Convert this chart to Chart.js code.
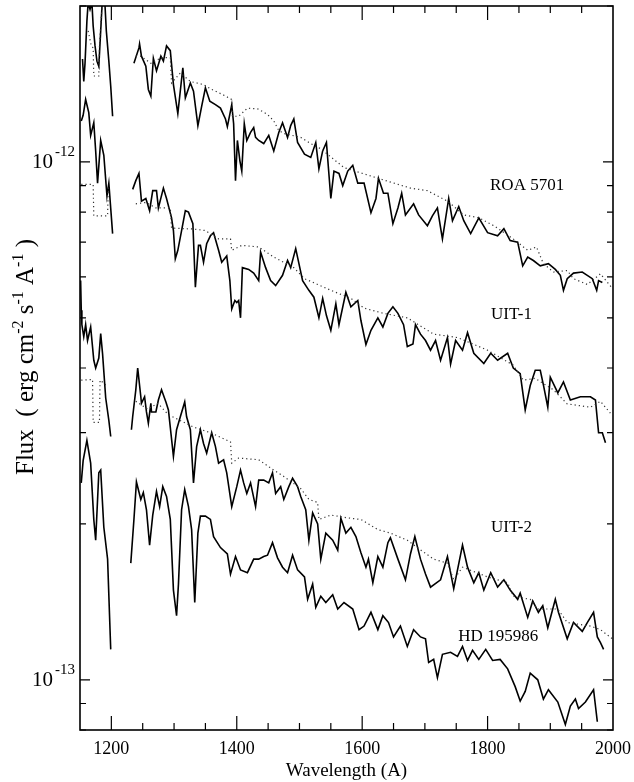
<!DOCTYPE html>
<html>
<head>
<meta charset="utf-8">
<script src="https://cdn.jsdelivr.net/npm/chart.js@4.4.0/dist/chart.umd.min.js"></script>
<style>
  html, body { margin: 0; padding: 0; background: #fff; }
  canvas { display: block; }
</style>
</head>
<body>
<canvas id="spectra" width="634" height="782"></canvas>
<script>
// UV spectra, flux in units of 1e-13 erg cm-2 s-1 A-1, wavelength in A
// [wavelength, flux]; a null flux breaks the line (gap around Ly-alpha)
const roaObs = [[1154,15.8],[1156,14.3],[1158,15.5],[1161,18.7],[1163,20.3],[1166,19.7],[1169,20.3],[1171,18.3],[1174,16.75],[1177,15.65],[1180,15.3],[1183,17.9],[1186,21],[1189,21],[1192,17.9],[1196,15.65],[1199,14.0],[1202,12.25],[1215,null],
  [1236,15.5],[1244,16.6],[1245,16.9],[1248,16.0],[1255,15.3],[1259,13.8],[1263,13.4],[1267,15.85],[1272,15.0],[1279,16.0],[1283,15.65],[1288,16.75],[1294,16.4],[1299,14.1],[1306,12.4],[1314,15.2],[1318,13.3],[1326,14.2],[1331,13.7],[1338,11.75],[1344,12.8],[1350,13.9],[1357,13.1],[1366,12.9],[1374,12.7],[1382,12.1],[1385,11.7],[1392,12.9],[1395,11.85],[1398,9.2],[1401,11.0],[1405,10.05],[1408,9.6],[1412,11.85],[1416,11.0],[1422,11.4],[1427,11.65],[1430,11.15],[1435,11.0],[1443,10.85],[1451,11.25],[1459,10.5],[1467,11.4],[1473,11.9],[1481,11.15],[1486,11.75],[1491,12.1],[1497,10.9],[1508,10.35],[1518,10.2],[1526,10.9],[1531,9.7],[1537,10.5],[1543,10.9],[1550,8.5],[1555,9.6],[1563,9.5],[1569,9.0],[1577,9.6],[1585,9.85],[1593,9.1],[1603,9.1],[1614,7.98],[1622,8.5],[1626,9.3],[1634,8.7],[1641,8.7],[1649,7.6],[1657,8.15],[1663,8.7],[1669,7.9],[1682,8.3],[1690,7.9],[1704,7.53],[1712,7.87],[1720,8.15],[1725,7.47],[1728,7.1],[1738,8.5],[1744,7.7],[1754,8.2],[1762,7.7],[1773,7.27],[1786,7.8],[1800,7.3],[1816,7.2],[1826,7.43],[1836,7.05],[1848,7.0],[1856,6.3],[1864,6.55],[1873,6.45],[1884,6.3],[1897,6.36],[1908,6.2],[1916,6.04],[1921,5.65],[1927,5.95],[1937,6.1],[1951,6.13],[1959,6.04],[1967,5.95],[1974,5.65],[1977,5.9],[1983,5.85]];

const roaModel = [[1163,17.9],[1168,16.75],[1171,16.6],[1172,14.65],[1180,14.65],[1181,16.75],[1184,19.1],[1187,21],[1215,null],
  [1239,16.0],[1247,16.0],[1263,15.5],[1280,15.9],[1294,15.9],[1296,14.2],[1310,14.85],[1326,14.3],[1347,14.1],[1360,13.8],[1377,13.5],[1392,13.2],[1393,12.25],[1403,12.25],[1417,12.7],[1434,12.65],[1449,12.35],[1459,12.0],[1467,11.5],[1475,11.35],[1502,11.15],[1518,10.85],[1534,10.6],[1571,9.75],[1625,9.3],[1677,8.9],[1704,8.8],[1736,8.4],[1762,7.9],[1786,7.8],[1810,7.53],[1841,7.1],[1864,6.75],[1878,6.85],[1889,6.36],[1905,6.13],[1927,6.17],[1937,5.95],[1959,5.8],[1980,6.08],[1999,5.7]];

const uit1Obs = [[1152,12.0],[1155,12.3],[1159,13.2],[1164,12.45],[1167,11.25],[1172,11.9],[1175,10.5],[1178,9.1],[1183,11.0],[1188,10.3],[1193,8.6],[1196,9.1],[1202,7.27],[1215,null],
  [1234,8.85],[1239,9.2],[1244,9.5],[1248,8.4],[1255,8.5],[1261,8.05],[1266,8.8],[1272,8.8],[1275,8.15],[1283,8.9],[1288,8.5],[1296,7.8],[1299,7.37],[1302,6.5],[1306,6.75],[1312,7.37],[1318,8.05],[1323,8.0],[1330,7.6],[1334,5.73],[1339,6.9],[1342,6.9],[1347,6.4],[1352,6.95],[1358,7.2],[1363,7.3],[1371,6.75],[1376,6.4],[1384,6.58],[1389,5.9],[1392,5.2],[1397,5.4],[1400,5.35],[1403,5.4],[1406,5.0],[1409,6.25],[1419,6.2],[1427,6.1],[1435,5.9],[1438,6.7],[1446,6.25],[1454,5.9],[1462,5.77],[1473,6.04],[1481,6.45],[1486,6.25],[1494,6.8],[1505,5.9],[1515,5.65],[1523,5.48],[1531,5.0],[1537,5.45],[1543,5.05],[1550,4.73],[1558,5.32],[1563,4.85],[1574,5.6],[1582,5.25],[1593,5.4],[1598,4.94],[1606,4.44],[1614,4.73],[1625,5.0],[1633,4.8],[1641,5.1],[1649,5.25],[1657,5.1],[1666,4.85],[1672,4.4],[1681,4.45],[1685,4.85],[1693,4.65],[1701,4.52],[1709,4.33],[1717,4.52],[1725,4.14],[1736,4.58],[1741,4.07],[1749,4.52],[1760,4.33],[1768,4.68],[1778,4.27],[1794,4.08],[1805,4.27],[1816,4.14],[1832,4.27],[1841,4.0],[1852,3.9],[1860,3.32],[1868,3.7],[1876,3.96],[1884,3.96],[1889,3.71],[1896,3.36],[1900,3.84],[1912,3.58],[1921,3.76],[1932,3.47],[1948,3.52],[1964,3.52],[1972,3.47],[1977,3.0],[1983,3.0],[1988,2.87]];

const uit1Model = [[1152,9.05],[1171,9.05],[1172,7.87],[1194,7.87],[1195,8.9],[1197,8.9],[1215,null],
  [1239,8.3],[1255,8.35],[1271,8.15],[1294,8.15],[1296,7.45],[1331,7.42],[1350,7.37],[1371,7.1],[1390,7.1],[1392,6.75],[1408,6.9],[1435,6.85],[1459,6.55],[1491,6.25],[1508,5.95],[1529,5.8],[1550,5.65],[1582,5.45],[1603,5.22],[1634,5.1],[1672,5.0],[1714,4.65],[1752,4.58],[1800,4.33],[1841,4.05],[1857,3.79],[1876,3.82],[1905,3.63],[1927,3.41],[1964,3.36],[1980,3.45],[1996,3.27]];

const uit2Obs = [[1151,5.9],[1152,5.17],[1153,4.85],[1156,4.6],[1159,4.85],[1162,4.52],[1167,4.8],[1172,4.14],[1175,4.0],[1180,4.18],[1183,4.66],[1186,4.26],[1191,3.5],[1196,3.17],[1199,2.95],[1215,null],
  [1232,3.04],[1234,3.22],[1239,3.63],[1242,4.0],[1247,3.52],[1248,3.42],[1253,3.52],[1256,3.29],[1259,3.13],[1263,3.42],[1264,3.29],[1271,3.29],[1275,3.47],[1280,3.63],[1287,3.44],[1291,3.32],[1299,2.7],[1304,3.04],[1310,3.22],[1317,3.44],[1320,3.22],[1326,3.04],[1331,2.4],[1336,2.82],[1342,3.04],[1347,2.86],[1352,2.74],[1360,3.0],[1366,2.82],[1371,2.62],[1379,2.66],[1384,2.51],[1392,2.16],[1400,2.36],[1406,2.54],[1411,2.4],[1416,2.29],[1422,2.4],[1430,2.16],[1435,2.43],[1443,2.43],[1451,2.4],[1457,2.51],[1462,2.29],[1470,2.36],[1475,2.23],[1483,2.36],[1489,2.45],[1497,2.36],[1502,2.26],[1510,2.13],[1515,1.86],[1521,2.1],[1529,2.0],[1534,1.71],[1542,1.92],[1553,1.86],[1561,1.78],[1566,2.05],[1574,1.92],[1582,1.97],[1590,1.89],[1598,1.76],[1606,1.65],[1610,1.71],[1617,1.54],[1625,1.73],[1633,1.65],[1641,1.84],[1645,1.88],[1657,1.71],[1669,1.56],[1677,1.75],[1684,1.89],[1693,1.71],[1701,1.6],[1709,1.51],[1725,1.56],[1736,1.73],[1746,1.5],[1760,1.82],[1768,1.65],[1778,1.54],[1786,1.61],[1794,1.49],[1805,1.61],[1816,1.51],[1826,1.56],[1836,1.49],[1848,1.43],[1852,1.47],[1864,1.32],[1872,1.42],[1881,1.35],[1888,1.39],[1896,1.26],[1908,1.43],[1913,1.35],[1927,1.2],[1937,1.29],[1951,1.24],[1959,1.29],[1969,1.35],[1975,1.21],[1980,1.18],[1985,1.145]];

const uit2Model = [[1152,3.79],[1170,3.8],[1171,3.14],[1181,3.14],[1182,3.79],[1191,3.71],[1215,null],
  [1239,3.45],[1258,3.33],[1274,3.42],[1291,3.25],[1330,3.08],[1358,3.0],[1390,2.88],[1392,2.62],[1403,2.68],[1435,2.66],[1459,2.54],[1475,2.47],[1502,2.34],[1515,2.23],[1529,2.2],[1531,2.04],[1550,2.08],[1582,2.05],[1598,2.04],[1625,1.95],[1645,1.92],[1672,1.86],[1688,1.8],[1714,1.71],[1736,1.68],[1746,1.56],[1760,1.65],[1800,1.58],[1832,1.54],[1841,1.45],[1868,1.43],[1880,1.37],[1912,1.37],[1927,1.29],[1964,1.27],[1980,1.25],[1999,1.2]];

const hdObs = [[1152,2.4],[1155,2.65],[1161,2.9],[1167,2.62],[1172,2.04],[1175,1.86],[1180,2.51],[1183,2.54],[1188,1.97],[1194,1.71],[1199,1.145],[1215,null],
  [1231,1.68],[1236,2.04],[1240,2.41],[1247,2.23],[1251,2.3],[1256,2.13],[1261,1.82],[1266,2.08],[1272,2.31],[1277,2.16],[1282,2.36],[1288,2.26],[1294,2.04],[1299,1.49],[1304,1.33],[1307,1.53],[1312,2.13],[1317,2.33],[1323,2.16],[1328,1.95],[1333,1.41],[1338,1.92],[1342,2.07],[1350,2.07],[1358,2.04],[1363,1.89],[1374,1.8],[1385,1.75],[1390,1.6],[1398,1.73],[1406,1.63],[1417,1.61],[1427,1.71],[1435,1.71],[1443,1.73],[1449,1.74],[1457,1.84],[1465,1.72],[1473,1.65],[1481,1.61],[1489,1.74],[1497,1.63],[1508,1.58],[1513,1.43],[1521,1.53],[1526,1.38],[1534,1.45],[1542,1.41],[1553,1.46],[1561,1.37],[1571,1.41],[1585,1.37],[1595,1.25],[1603,1.27],[1614,1.35],[1625,1.25],[1633,1.33],[1642,1.29],[1650,1.21],[1661,1.27],[1672,1.16],[1682,1.25],[1693,1.21],[1701,1.2],[1706,1.08],[1714,1.095],[1720,1.01],[1728,1.12],[1741,1.13],[1752,1.11],[1760,1.16],[1768,1.09],[1776,1.14],[1786,1.095],[1797,1.145],[1808,1.09],[1820,1.095],[1832,1.05],[1844,0.97],[1852,0.91],[1860,0.95],[1868,1.03],[1880,1.0],[1889,0.918],[1897,0.957],[1912,0.906],[1924,0.82],[1932,0.89],[1940,0.918],[1945,0.88],[1956,0.906],[1969,0.957],[1975,0.83]];

// star names, placed at [wavelength, flux]
const starLabels = [['ROA 5701', 1863, 9.0], ['UIT-1', 1838, 5.07], ['UIT-2', 1838, 1.97], ['HD 195986', 1817, 1.21]];

const xLabelTicks = [1200, 1400, 1600, 1800, 2000];
const yDecades = [[1, '-13'], [10, '-12']];
const yMinorTicks = [0.8, 0.9, 2, 3, 4, 5, 6, 7, 8, 9, 20];

const FONT = '"Liberation Serif", "Times New Roman", serif';

function toPoints(pairs) {
  return pairs.map(p => ({ x: p[0], y: p[1] }));
}

function solid(pairs) {
  return { data: toPoints(pairs), borderColor: '#000', borderWidth: 1.6, pointRadius: 0, spanGaps: false, tension: 0 };
}

function dotted(pairs) {
  return { data: toPoints(pairs), borderColor: '#333', borderWidth: 1.2, borderDash: [1.2, 3], pointRadius: 0, spanGaps: false, tension: 0 };
}

// frame, inward ticks on all four sides, superscript labels
const decorations = {
  id: 'decorations',
  afterDraw(chart) {
    const { ctx, chartArea: a, scales: { x, y } } = chart;
    ctx.save();
    ctx.strokeStyle = '#000';
    ctx.lineWidth = 1.6;
    ctx.strokeRect(a.left, a.top, a.right - a.left, a.bottom - a.top);

    ctx.lineWidth = 1.2;
    ctx.beginPath();
    for (let w = 1200; w < 2000; w += 50) {
      const px = x.getPixelForValue(w);
      const len = w % 200 === 0 ? 14 : 7;
      ctx.moveTo(px, a.bottom); ctx.lineTo(px, a.bottom - len);
      ctx.moveTo(px, a.top); ctx.lineTo(px, a.top + len);
    }
    yDecades.forEach(d => {
      const py = y.getPixelForValue(d[0]);
      ctx.moveTo(a.left, py); ctx.lineTo(a.left + 10, py);
      ctx.moveTo(a.right, py); ctx.lineTo(a.right - 10, py);
    });
    yMinorTicks.forEach(v => {
      const py = y.getPixelForValue(v);
      ctx.moveTo(a.left, py); ctx.lineTo(a.left + 6, py);
      ctx.moveTo(a.right, py); ctx.lineTo(a.right - 6, py);
    });
    ctx.stroke();

    ctx.fillStyle = '#000';
    // y tick labels 10^-12, 10^-13
    yDecades.forEach(d => {
      const py = y.getPixelForValue(d[0]);
      ctx.font = '21px ' + FONT;
      ctx.textAlign = 'right';
      ctx.textBaseline = 'middle';
      ctx.fillText('10', a.left - 27, py + 1);
      ctx.font = '15px ' + FONT;
      ctx.textAlign = 'left';
      ctx.fillText(d[1], a.left - 25, py - 10);
    });

    // star names
    ctx.font = '17px ' + FONT;
    ctx.textAlign = 'center';
    ctx.textBaseline = 'middle';
    starLabels.forEach(l => {
      ctx.fillText(l[0], x.getPixelForValue(l[1]), y.getPixelForValue(l[2]));
    });

    // rotated y title with superscripts
    const parts = [['Flux  ( erg cm', false], ['-2', true], [' s', false], ['-1', true], [' A', false], ['-1', true], [' )', false]];
    const big = '25px ' + FONT, small = '16px ' + FONT;
    let total = 0;
    parts.forEach(p => { ctx.font = p[1] ? small : big; total += ctx.measureText(p[0]).width; });
    ctx.translate(33, 357);
    ctx.rotate(-Math.PI / 2);
    ctx.textAlign = 'left';
    ctx.textBaseline = 'alphabetic';
    let cx = -total / 2;
    parts.forEach(p => {
      ctx.font = p[1] ? small : big;
      ctx.fillText(p[0], cx, p[1] ? -10 : 0);
      cx += ctx.measureText(p[0]).width;
    });
    ctx.restore();
  }
};

new Chart(document.getElementById('spectra'), {
  type: 'line',
  data: {
    datasets: [
      dotted(roaModel), solid(roaObs),
      dotted(uit1Model), solid(uit1Obs),
      dotted(uit2Model), solid(uit2Obs),
      solid(hdObs)
    ]
  },
  options: {
    responsive: false,
    devicePixelRatio: 1,
    animation: false,
    layout: { padding: { top: 6, right: 21, bottom: 0, left: 0 } },
    plugins: { legend: { display: false }, tooltip: { enabled: false } },
    scales: {
      x: {
        type: 'linear', min: 1150, max: 2000,
        afterBuildTicks: s => { s.ticks = xLabelTicks.map(v => ({ value: v })); },
        // fixed box; layout padding handles the label overhang
        afterFit: s => { s.height = 52; s.paddingLeft = 0; s.paddingRight = 0; },
        grid: { display: false, drawTicks: false },
        border: { display: false },
        ticks: { color: '#000', font: { family: FONT, size: 18 }, padding: 8, maxRotation: 0, autoSkip: false, callback: v => String(v) },
        title: { display: true, text: 'Wavelength (A)', color: '#000', font: { family: FONT, size: 19 }, padding: { top: 0, bottom: 0 } }
      },
      y: {
        type: 'logarithmic', min: 0.8, max: 20,
        afterFit: s => { s.width = 80; },
        grid: { display: false, drawTicks: false },
        border: { display: false },
        ticks: { display: false }
      }
    }
  },
  plugins: [decorations]
});
</script>
</body>
</html>
